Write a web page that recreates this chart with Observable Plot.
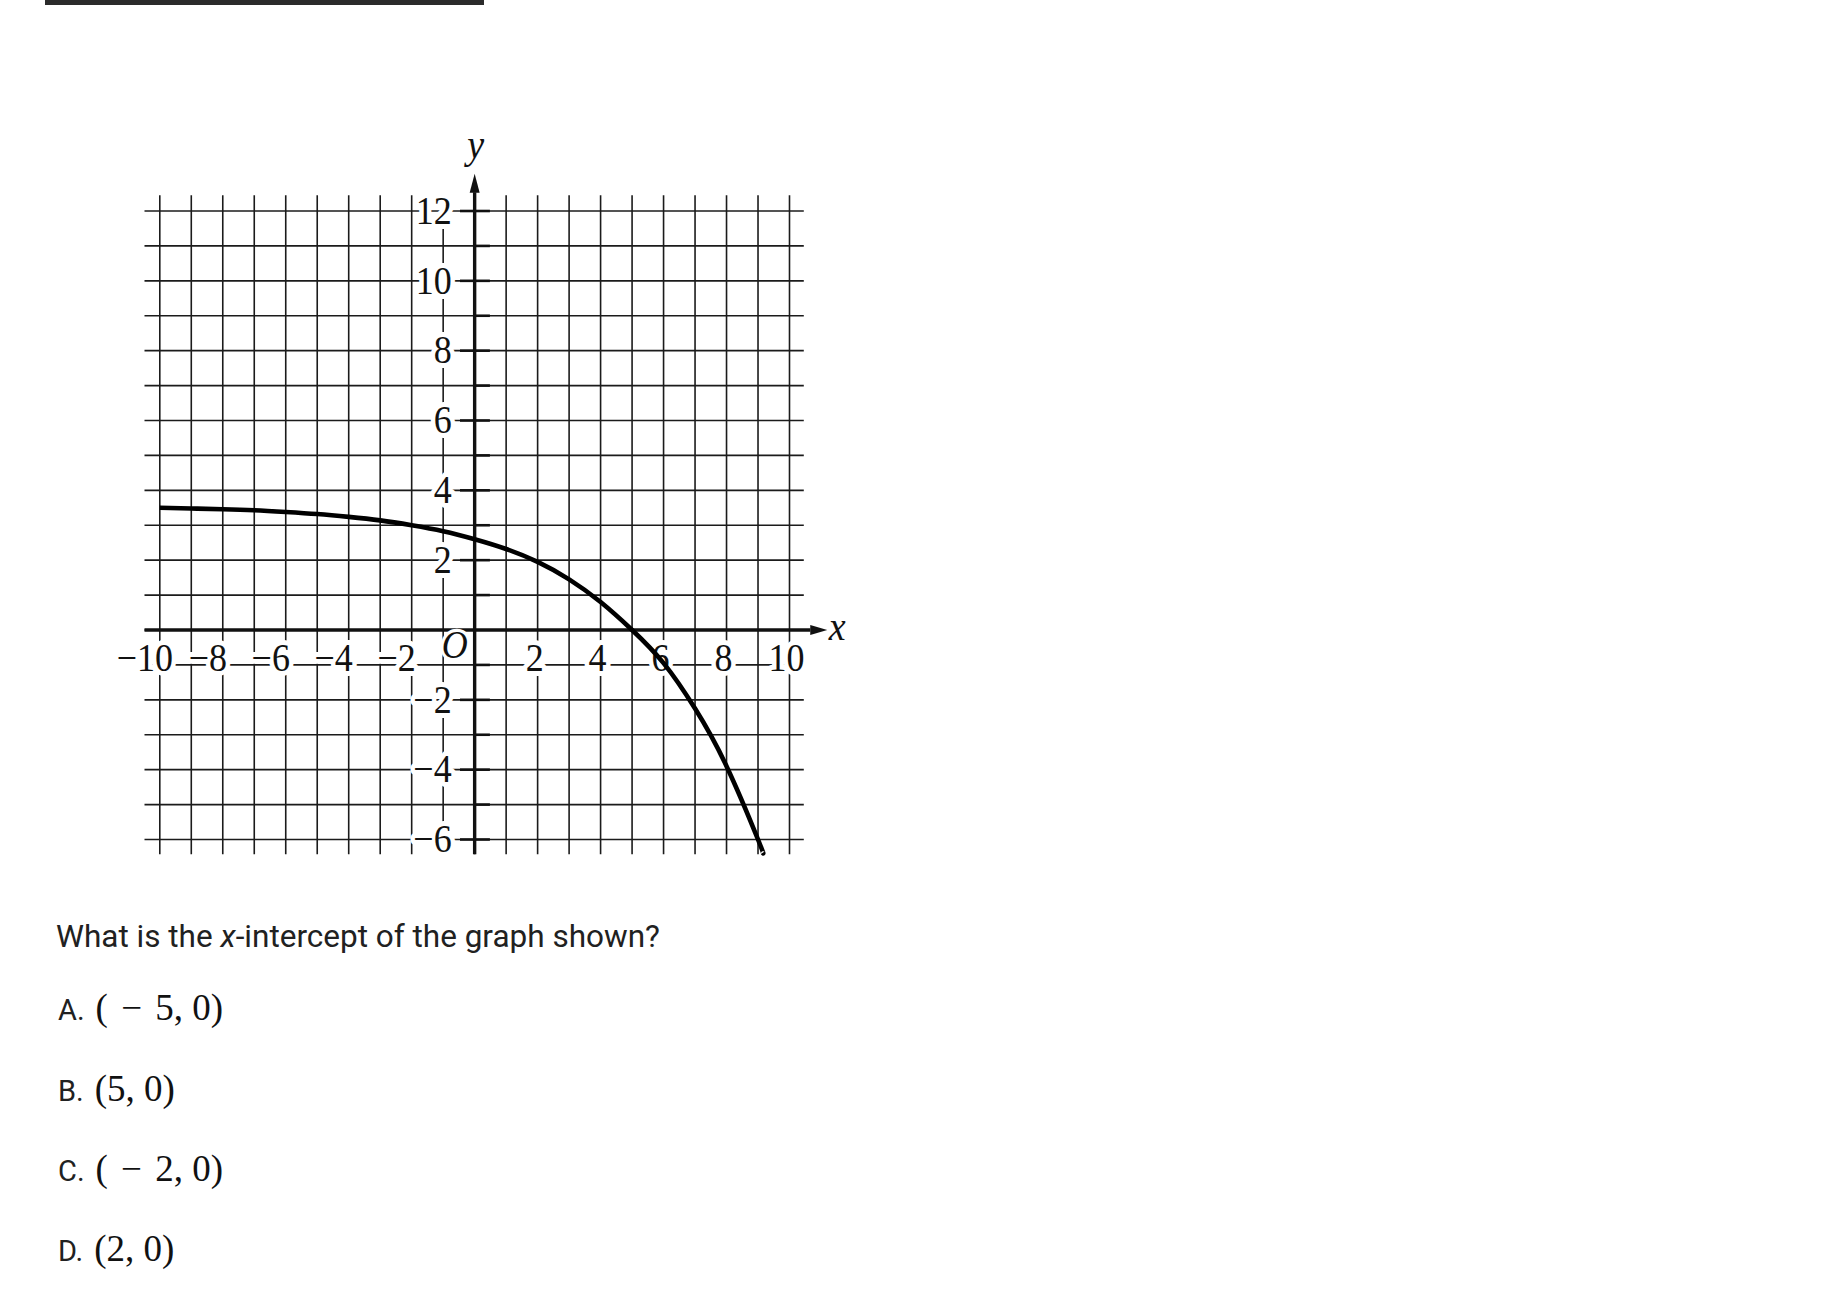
<!DOCTYPE html>
<html>
<head>
<meta charset="utf-8">
<script src="https://cdn.jsdelivr.net/npm/d3@7"></script>
<script src="https://cdn.jsdelivr.net/npm/@observablehq/plot@0.6"></script>
<style>
  html, body { margin: 0; padding: 0; background: #fff; }
  #page { position: relative; width: 1836px; height: 1302px; overflow: hidden; background: #fff; }
  #chart { position: absolute; left: 0; top: 0; }
  #topbar { position: absolute; left: 45px; top: 0; width: 439px; height: 5px; background: #2b2b2b; z-index: 2; }
  #question { position: absolute; left: 56px; top: 921px; font-family: Roboto, sans-serif; font-size: 31.5px; line-height: 31.5px; color: #212121; white-space: nowrap; }
  .row { position: absolute; left: 58px; display: flex; align-items: baseline; line-height: 1; white-space: pre; }
  .row .lab { font-family: Roboto, sans-serif; font-size: 29px; color: #212121; margin-right: 11px; }
  .row .math { font-family: "Liberation Serif", "Times New Roman", serif; font-size: 37px; color: #111; }
  .row .math .op { padding: 0 4px; }
</style>
</head>
<body>
<div id="page">
  <div id="chart"></div>
  <div id="topbar"></div>
  <div id="question">What is the <i>x</i>-intercept of the graph shown?</div>
</div>
<script>
// ---- data ----
const gridX = [-10,-9,-8,-7,-6,-5,-4,-3,-2,-1,0,1,2,3,4,5,6,7,8,9,10];
const gridY = [-6,-5,-4,-3,-2,-1,0,1,2,3,4,5,6,7,8,9,10,11,12];
const xTickLabels = [-10,-8,-6,-4,-2,2,4,6,8,10];
const yTickLabels = [12,10,8,6,4,2,-2,-4,-6];
const yOddTicks = [11,9,7,5,3,1,-1,-3,-5];
const curveX = [-10,-9,-8,-7,-6,-5,-4,-3,-2,-1,0,1,2,3,4,5,6,7,8,9,9.15];
const curveY = [3.50,3.48,3.46,3.43,3.38,3.32,3.24,3.14,3.00,2.83,2.60,2.32,1.95,1.45,0.80,0.00,-0.95,-2.25,-3.90,-6.00,-6.38];
const answerLabels = ["A.","B.","C.","D."];
const answerTexts = ["( \u2212 5, 0)","(5, 0)","( \u2212 2, 0)","(2, 0)"];

// ---- chart ----
const xMin = d3.min(gridX), xMax = d3.max(gridX);
const yMin = d3.min(gridY), yMax = d3.max(gridY);
const padX = 0.47, padY = 0.44;
const fmt = d => d < 0 ? "\u2212" + Math.abs(d) : String(d);
const curve = curveX.map((x, i) => ({x, y: curveY[i]}));
const xNeg = xTickLabels.filter(d => d < 0);
const xPos = xTickLabels.filter(d => d > 0);

const arrowUp = { draw(ctx) { ctx.moveTo(0, -19); ctx.lineTo(5, 0); ctx.lineTo(-5, 0); ctx.closePath(); } };
const arrowRight = { draw(ctx) { ctx.moveTo(17, 0); ctx.lineTo(0, -5); ctx.lineTo(0, 5); ctx.closePath(); } };

const serif = "Liberation Serif, Times New Roman, serif";
const ink = "#111";
const labelStyle = {fontFamily: serif, fontSize: 36, fill: ink, stroke: "white", strokeWidth: 9, paintOrder: "stroke", className: "lbl"};

const plot = Plot.plot({
  width: 900,
  height: 880,
  marginLeft: 159.3,
  marginRight: 111,
  marginTop: 210.5,
  marginBottom: 41,
  x: {domain: [xMin, xMax], axis: null},
  y: {domain: [yMin, yMax], axis: null},
  style: {background: "transparent", overflow: "visible"},
  marks: [
    // grid
    Plot.ruleX(gridX, {x: d => d, y1: yMin - padY, y2: yMax + padY, stroke: "#1b1b1b", strokeWidth: 1.6}),
    Plot.ruleY(gridY, {y: d => d, x1: xMin - padX, x2: xMax + padX, stroke: "#1b1b1b", strokeWidth: 1.6}),
    // y-axis ticks
    Plot.ruleY(yTickLabels, {y: d => d, x1: -0.45, x2: 0.5, stroke: ink, strokeWidth: 2.6}),
    Plot.ruleY(yOddTicks, {y: d => d, x1: 0, x2: 0.5, stroke: ink, strokeWidth: 2.6}),
    // axes
    Plot.ruleY([0], {x1: xMin - padX, x2: 10.68, stroke: ink, strokeWidth: 3.4}),
    Plot.ruleX([0], {y1: yMin - padY, y2: 12.52, stroke: ink, strokeWidth: 3.4}),
    Plot.dot([{x: 10.66, y: 0}], {x: "x", y: "y", symbol: arrowRight, fill: ink, stroke: null}),
    Plot.dot([{x: 0, y: 12.52}], {x: "x", y: "y", symbol: arrowUp, fill: ink, stroke: null}),
    // tick labels
    Plot.text(yTickLabels, {x: 0, y: d => d, text: fmt, textAnchor: "end", dx: -23, ...labelStyle}),
    Plot.text(xNeg, {x: d => d, y: 0, text: fmt, textAnchor: "middle", dx: -15, dy: 28, ...labelStyle}),
    Plot.text(xPos, {x: d => d, y: 0, text: fmt, textAnchor: "middle", dx: -3, dy: 28, ...labelStyle}),
    Plot.text(["O"], {x: 0, y: 0, text: d => d, textAnchor: "middle", dx: -20, dy: 15,
      ...labelStyle, fontStyle: "italic", strokeWidth: 6}),
    // axis names
    Plot.text(["x"], {x: 10.66, y: 0, text: d => d, textAnchor: "middle", dx: 27, dy: -3,
      fontFamily: serif, fontStyle: "italic", fontSize: 38, fill: ink, className: "lbl"}),
    Plot.text(["y"], {x: 0, y: 12.52, text: d => d, textAnchor: "middle", lineAnchor: "bottom", dx: 1, dy: -35,
      fontFamily: serif, fontStyle: "italic", fontSize: 38, fill: ink, className: "lbl"}),
    // the graph
    Plot.line(curve, {x: "x", y: "y", curve: "natural", stroke: "#000", strokeWidth: 4.6, strokeLinecap: "butt", strokeLinejoin: "round"})
  ]
});
document.getElementById("chart").appendChild(plot);

// stretch the serif labels vertically (the reference figure is slightly taller than wide)
plot.querySelectorAll("g.lbl text, text.lbl").forEach(t => {
  const tr = t.getAttribute("transform");
  if (tr) {
    t.setAttribute("transform", tr + " scale(1,1.1)");
  } else {
    const x = +t.getAttribute("x") || 0, y = +t.getAttribute("y") || 0;
    t.setAttribute("transform", `translate(${x},${y}) scale(1,1.1) translate(${-x},${-y})`);
  }
});

// ---- answer choices ----
const page = document.getElementById("page");
const rowTops = [989, 1070, 1150, 1230];
answerLabels.forEach((lab, i) => {
  const row = document.createElement("div");
  row.className = "row";
  row.style.top = rowTops[i] + "px";
  const a = document.createElement("span"); a.className = "lab"; a.textContent = lab;
  const b = document.createElement("span"); b.className = "math";
  answerTexts[i].split(" \u2212 ").forEach((part, j) => {
    if (j > 0) { const op = document.createElement("span"); op.className = "op"; op.textContent = " \u2212 "; b.appendChild(op); }
    b.appendChild(document.createTextNode(part));
  });
  row.appendChild(a); row.appendChild(b);
  page.appendChild(row);
});
</script>
</body>
</html>
